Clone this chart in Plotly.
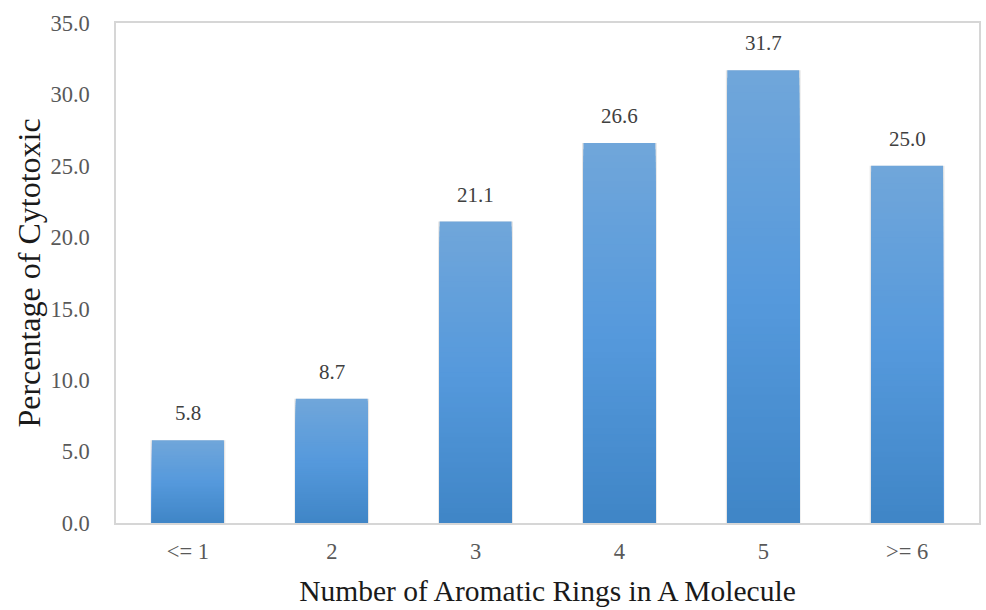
import plotly.graph_objects as go

# Share of cytotoxic compounds by number of aromatic rings
categories = ["<= 1", "2", "3", "4", "5", ">= 6"]
percent_cytotoxic = [5.8, 8.7, 21.1, 26.6, 31.7, 25.0]
y_ticks = [0, 5, 10, 15, 20, 25, 30, 35]

SERIF = "Liberation Serif, Times New Roman, serif"

# vertical gradient for the bars: light at the top, deeper blue at the base
top_rgb = (0x70, 0xA6, 0xDA)
mid_rgb = (0x55, 0x99, 0xDC)
bot_rgb = (0x3F, 0x85, 0xC6)


def blend(t):
    # t = 0 at the top of a bar, 1 at its base
    if t < 0.5:
        a, b, u = top_rgb, mid_rgb, t / 0.5
    else:
        a, b, u = mid_rgb, bot_rgb, (t - 0.5) / 0.5
    return "rgb(%d,%d,%d)" % tuple(round(a[i] + (b[i] - a[i]) * u) for i in range(3))


fig = go.Figure()

# soft shadow behind each bar
fig.add_trace(go.Bar(
    x=categories, y=percent_cytotoxic, width=0.52,
    marker=dict(color="rgba(0,0,0,0.10)", line=dict(width=0)),
    hoverinfo="skip", showlegend=False,
))

# overlaid bars of decreasing height build the top-to-bottom gradient
N = 60
for k in range(N):
    frac = (N - k) / N
    fig.add_trace(go.Bar(
        x=categories,
        y=[v * frac for v in percent_cytotoxic],
        width=0.5,
        marker=dict(color=blend(1 - frac), line=dict(width=0)),
        hoverinfo="skip" if k else "x+y",
        showlegend=False,
    ))

# value labels above the bars (x given as category index)
for i, v in enumerate(percent_cytotoxic):
    fig.add_annotation(
        x=i, y=v, text=f"{v:.1f}", showarrow=False,
        yanchor="bottom", yshift=13,
        font=dict(family=SERIF, size=21, color="#404040"),
    )

fig.update_layout(
    width=986, height=610,
    margin=dict(l=116, r=5, t=23, b=87),
    barmode="overlay",
    plot_bgcolor="white", paper_bgcolor="white",
    font=dict(family=SERIF, color="#595959", size=22),
)

fig.update_xaxes(
    type="category",
    showline=True, linecolor="#d6d6d6", linewidth=1.5, mirror=True,
    showgrid=False, ticks="outside", tickcolor="rgba(0,0,0,0)", ticklen=7,
    tickfont=dict(family=SERIF, size=22.5, color="#595959"),
    title=dict(text="Number of Aromatic Rings in A Molecule",
               font=dict(family=SERIF, size=29.5, color="#1a1a1a"), standoff=18),
)
fig.update_yaxes(
    range=[0, 35], tickvals=y_ticks, tickformat=".1f",
    showline=True, linecolor="#d6d6d6", linewidth=1.5, mirror=True,
    showgrid=False, zeroline=False,
    ticks="outside", tickcolor="rgba(0,0,0,0)", ticklen=20,
    tickfont=dict(family=SERIF, size=22.5, color="#595959"),
    title=dict(text="Percentage of Cytotoxic",
               font=dict(family=SERIF, size=32, color="#1a1a1a"), standoff=0),
)

fig.write_html("out.html")
